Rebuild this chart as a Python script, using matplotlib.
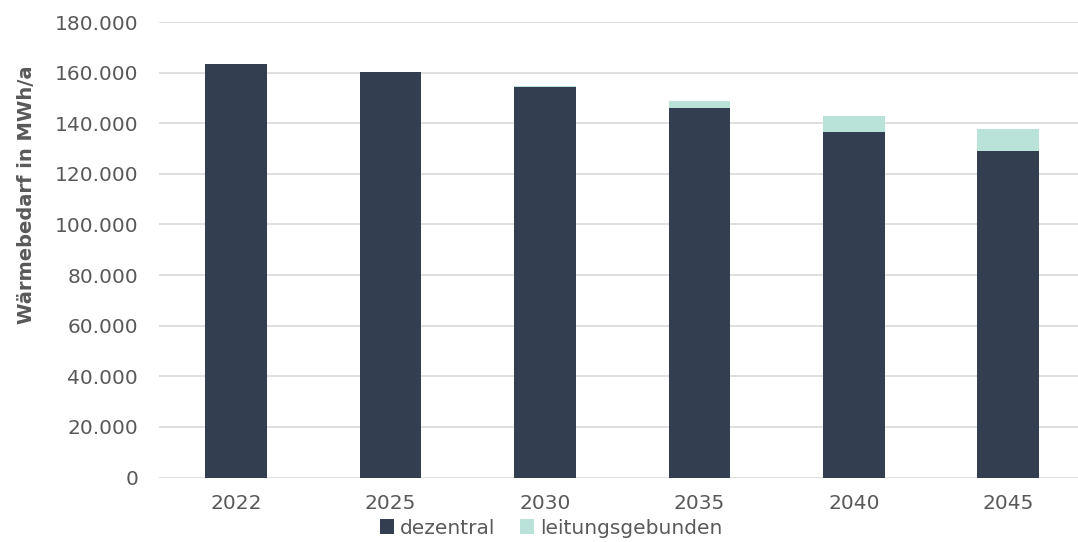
import matplotlib.pyplot as plt
from matplotlib.ticker import FuncFormatter

years = ['2022', '2025', '2030', '2035', '2040', '2045']
dezentral = [163400, 160100, 154200, 145900, 136700, 129200]
leitungsgebunden = [0, 0, 600, 2800, 6200, 8700]

dark = '#333f50'
light = '#b9e3d9'
grey = '#595959'

plt.rcParams['font.family'] = ['DejaVu Sans']

fig = plt.figure(figsize=(10.78, 5.42), dpi=100)
ax = fig.add_axes([159/1078, (542-477.6)/542, (1078-159)/1078, (477.6-22)/542])

x = range(len(years))
ax.bar(x, dezentral, width=0.4, color=dark, label='dezentral', zorder=3)
ax.bar(x, leitungsgebunden, width=0.4, bottom=dezentral, color=light,
       label='leitungsgebunden', zorder=3)

ax.set_ylim(0, 180000)
ax.set_xlim(-0.5, (1078-159)/154.4 - 0.5)
ax.set_yticks(range(0, 180001, 20000))
ax.yaxis.set_major_formatter(FuncFormatter(lambda v, p: f'{int(v):,}'.replace(',', '.')))
ax.set_xticks(list(x))
ax.set_xticklabels(years)
ax.grid(axis='y', color='#d9d9d9', linewidth=1.2, zorder=0)
for s in ax.spines.values():
    s.set_visible(False)
ax.tick_params(axis='both', length=0, colors=grey, labelsize=14.5)
ax.tick_params(axis='x', pad=12)
ax.tick_params(axis='y', pad=15)

fig.text(27/1078, 1 - 195/542, 'Wärmebedarf in MWh/a', rotation=90, ha='center', va='center',
         fontsize=14, fontweight='bold', color=grey)

leg = fig.legend(loc='center', bbox_to_anchor=(551/1078, 1 - 528/542), ncol=2, frameon=False,
                 fontsize=14.5, handlelength=0.7, handleheight=0.7, handletextpad=0.3,
                 columnspacing=1.2, borderaxespad=0, borderpad=0)
for t in leg.get_texts():
    t.set_color(grey)

fig.savefig('out.png', dpi=100)
